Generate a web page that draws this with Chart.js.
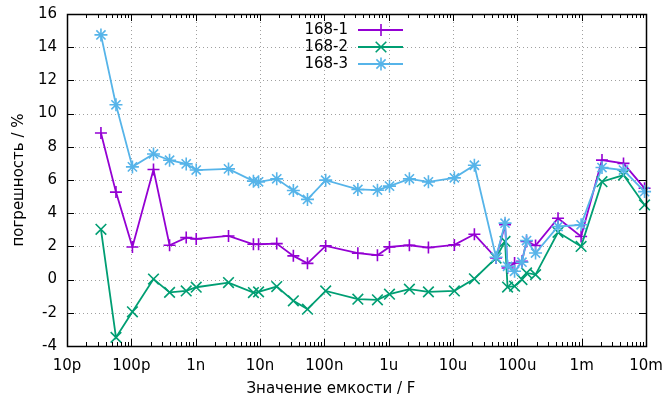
<!DOCTYPE html>
<html>
<head>
<meta charset="utf-8">
<script src="https://cdn.jsdelivr.net/npm/chart.js@4"></script>
<style>
  html, body { margin: 0; padding: 0; background: #fff; }
  #wrap { width: 662px; height: 398px; }
</style>
</head>
<body>
<div id="wrap"><canvas id="errChart" width="662" height="398"></canvas></div>
<script>
// Capacitance values (F)
const capacitance = [
    33.7e-12, 57.7e-12, 104e-12, 221e-12, 393e-12, 713e-12, 1.02e-9, 3.24e-9,
    7.9e-9, 9.5e-9, 18.2e-9, 33e-9, 54.7e-9, 105e-9, 332e-9, 669e-9,
    1.03e-6, 2.1e-6, 4.15e-6, 10.5e-6, 21.5e-6, 46.7e-6, 64.4e-6, 70.5e-6,
    90.6e-6, 118e-6, 139e-6, 192e-6, 429e-6, 0.98e-3, 2.07e-3, 4.47e-3, 9.5e-3
];

// Error, %
const err168_1 = [
    8.83, 5.27, 1.96, 6.63, 2.07, 2.53, 2.45, 2.63, 2.13, 2.13, 2.17, 1.43,
    0.98, 2.03, 1.59, 1.47, 1.97, 2.07, 1.93, 2.09, 2.73, 1.3, 3.3, 0.7,
    1.0, 1.1, 2.3, 2.05, 3.7, 2.6, 7.2, 7.0, 5.5
];
const err168_2 = [
    3.03, -3.48, -1.94, 0.03, -0.77, -0.68, -0.46, -0.18, -0.78, -0.74, -0.42, -1.28,
    -1.78, -0.68, -1.18, -1.22, -0.88, -0.58, -0.74, -0.68, 0.05, 1.3, 2.3, -0.45,
    -0.4, 0.0, 0.4, 0.3, 2.85, 2.0, 5.9, 6.3, 4.5
];
const err168_3 = [
    14.74, 10.53, 6.79, 7.57, 7.19, 6.97, 6.6, 6.67, 5.93, 5.89, 6.07, 5.37,
    4.83, 5.99, 5.43, 5.39, 5.63, 6.07, 5.89, 6.13, 6.89, 1.35, 3.4, 0.8,
    0.5, 1.05, 2.35, 1.6, 3.2, 3.3, 6.75, 6.6, 5.3
];

const seriesNames = ['168-1', '168-2', '168-3'];
const xTickLabels = ['10p', '100p', '1n', '10n', '100n', '1u', '10u', '100u', '1m', '10m'];
const yTicks = [-4, -2, 0, 2, 4, 6, 8, 10, 12, 14, 16];
const xTitle = 'Значение емкости / F';
const yTitle = 'погрешность / %';

const X_MIN_EXP = -11;
const X_MAX_EXP = -2;
const FONT = '15px "DejaVu Sans"';

function toPoints(values) {
    return capacitance.map((c, i) => ({ x: c, y: values[i] }));
}

function isDecade(v) {
    const l = Math.log10(v);
    return Math.abs(l - Math.round(l)) < 1e-6;
}

// gnuplot-like frame: dotted grid, box, inward ticks, inner legend
const gnuplotFrame = {
    id: 'gnuplotFrame',
    beforeDatasetsDraw(chart) {
        const { ctx, chartArea: a, scales: { x, y } } = chart;
        ctx.save();
        ctx.strokeStyle = '#a0a0a0';
        ctx.lineWidth = 1;
        ctx.setLineDash([1, 3]);
        x.ticks.forEach(t => {
            if (!isDecade(t.value)) return;
            const px = Math.round(x.getPixelForValue(t.value)) + 0.5;
            ctx.beginPath(); ctx.moveTo(px, a.top); ctx.lineTo(px, a.bottom); ctx.stroke();
        });
        yTicks.forEach(v => {
            const py = Math.round(y.getPixelForValue(v)) + 0.5;
            ctx.beginPath(); ctx.moveTo(a.left, py); ctx.lineTo(a.right, py); ctx.stroke();
        });
        ctx.restore();
    },
    afterDatasetsDraw(chart) {
        const { ctx, chartArea: a, scales: { x, y } } = chart;
        ctx.save();
        ctx.strokeStyle = '#000';
        ctx.lineWidth = 1;
        ctx.setLineDash([]);
        ctx.beginPath();
        x.ticks.forEach(t => {
            const px = Math.round(x.getPixelForValue(t.value)) + 0.5;
            const len = isDecade(t.value) ? 7 : 4;
            ctx.moveTo(px, a.bottom); ctx.lineTo(px, a.bottom - len);
            ctx.moveTo(px, a.top); ctx.lineTo(px, a.top + len);
        });
        yTicks.forEach(v => {
            const py = Math.round(y.getPixelForValue(v)) + 0.5;
            ctx.moveTo(a.left, py); ctx.lineTo(a.left + 7, py);
            ctx.moveTo(a.right, py); ctx.lineTo(a.right - 7, py);
        });
        ctx.stroke();
        ctx.lineWidth = 1.5;
        ctx.strokeRect(Math.round(a.left) + 0.5, Math.round(a.top) + 0.5,
            Math.round(a.right - a.left), Math.round(a.bottom - a.top));

        // axis titles
        ctx.font = FONT;
        ctx.fillStyle = '#000';
        ctx.textAlign = 'center';
        ctx.textBaseline = 'middle';
        ctx.fillText(xTitle, chart.width / 2, 389);
        ctx.save();
        ctx.translate(19, (a.top + a.bottom) / 2);
        ctx.rotate(-Math.PI / 2);
        ctx.fillText(yTitle, 0, 0);
        ctx.restore();

        // legend
        ctx.textAlign = 'right';
        chart.data.datasets.forEach((ds, i) => {
            const ly = 30 + 17 * i;
            ctx.fillStyle = '#000';
            ctx.fillText(ds.label, 348, ly);
            ctx.strokeStyle = ds.borderColor;
            ctx.lineWidth = 1.8;
            ctx.beginPath(); ctx.moveTo(358, ly); ctx.lineTo(403, ly); ctx.stroke();
            ctx.lineWidth = ds.pointBorderWidth;
            Chart.helpers.drawPoint(ctx, {
                pointStyle: ds.pointStyle, radius: ds.pointRadius,
                borderWidth: ds.pointBorderWidth, rotation: 0
            }, 381, ly);
        });
        ctx.restore();
    }
};

Chart.defaults.font.family = '"DejaVu Sans", sans-serif';
Chart.defaults.font.size = 15;
Chart.defaults.color = '#000';

const ctx = document.getElementById('errChart').getContext('2d');
new Chart(ctx, {
    type: 'scatter',
    data: {
        datasets: [
            {
                label: seriesNames[0],
                data: toPoints(err168_1),
                borderColor: '#9400d3',
                backgroundColor: '#9400d3',
                pointStyle: 'cross',
                pointRadius: 6,
                pointBorderWidth: 1.6,
                order: 3
            },
            {
                label: seriesNames[1],
                data: toPoints(err168_2),
                borderColor: '#009e73',
                backgroundColor: '#009e73',
                pointStyle: 'crossRot',
                pointRadius: 7.5,
                pointBorderWidth: 1.6,
                order: 2
            },
            {
                label: seriesNames[2],
                data: toPoints(err168_3),
                borderColor: '#56b4e9',
                backgroundColor: '#56b4e9',
                pointStyle: 'star',
                pointRadius: 6.5,
                pointBorderWidth: 1.6,
                order: 1
            }
        ].map(ds => Object.assign(ds, {
            showLine: true,
            borderWidth: 1.8,
            pointHoverRadius: ds.pointRadius,
            clip: false
        }))
    },
    options: {
        responsive: false,
        animation: false,
        layout: { padding: { top: 14, right: 16, left: 0, bottom: 0 } },
        plugins: {
            legend: { display: false },
            tooltip: { enabled: false }
        },
        scales: {
            x: {
                type: 'logarithmic',
                min: Math.pow(10, X_MIN_EXP),
                max: Math.pow(10, X_MAX_EXP),
                afterBuildTicks: scale => {
                    const ticks = [];
                    for (let e = X_MIN_EXP; e <= X_MAX_EXP; e++) {
                        for (let m = 1; m <= 9; m++) {
                            if (e === X_MAX_EXP && m > 1) break;
                            ticks.push({ value: m * Math.pow(10, e) });
                        }
                    }
                    scale.ticks = ticks;
                },
                afterFit: scale => {
                    scale.height = 52;
                    scale.paddingLeft = 0;
                    scale.paddingRight = 0;
                },
                ticks: {
                    autoSkip: false,
                    maxRotation: 0,
                    padding: 11,
                    callback: v => isDecade(v) ? xTickLabels[Math.round(Math.log10(v)) - X_MIN_EXP] : ''
                },
                grid: { display: false, drawTicks: false },
                border: { display: false },
                title: { display: false }
            },
            y: {
                min: -4,
                max: 16,
                afterFit: scale => {
                    scale.width = 67;
                    scale.paddingTop = 0;
                    scale.paddingBottom = 0;
                },
                ticks: {
                    stepSize: 2,
                    padding: 10,
                    callback: v => String(v)
                },
                grid: { display: false, drawTicks: false },
                border: { display: false },
                title: { display: false }
            }
        }
    },
    plugins: [gnuplotFrame]
});
</script>
</body>
</html>
